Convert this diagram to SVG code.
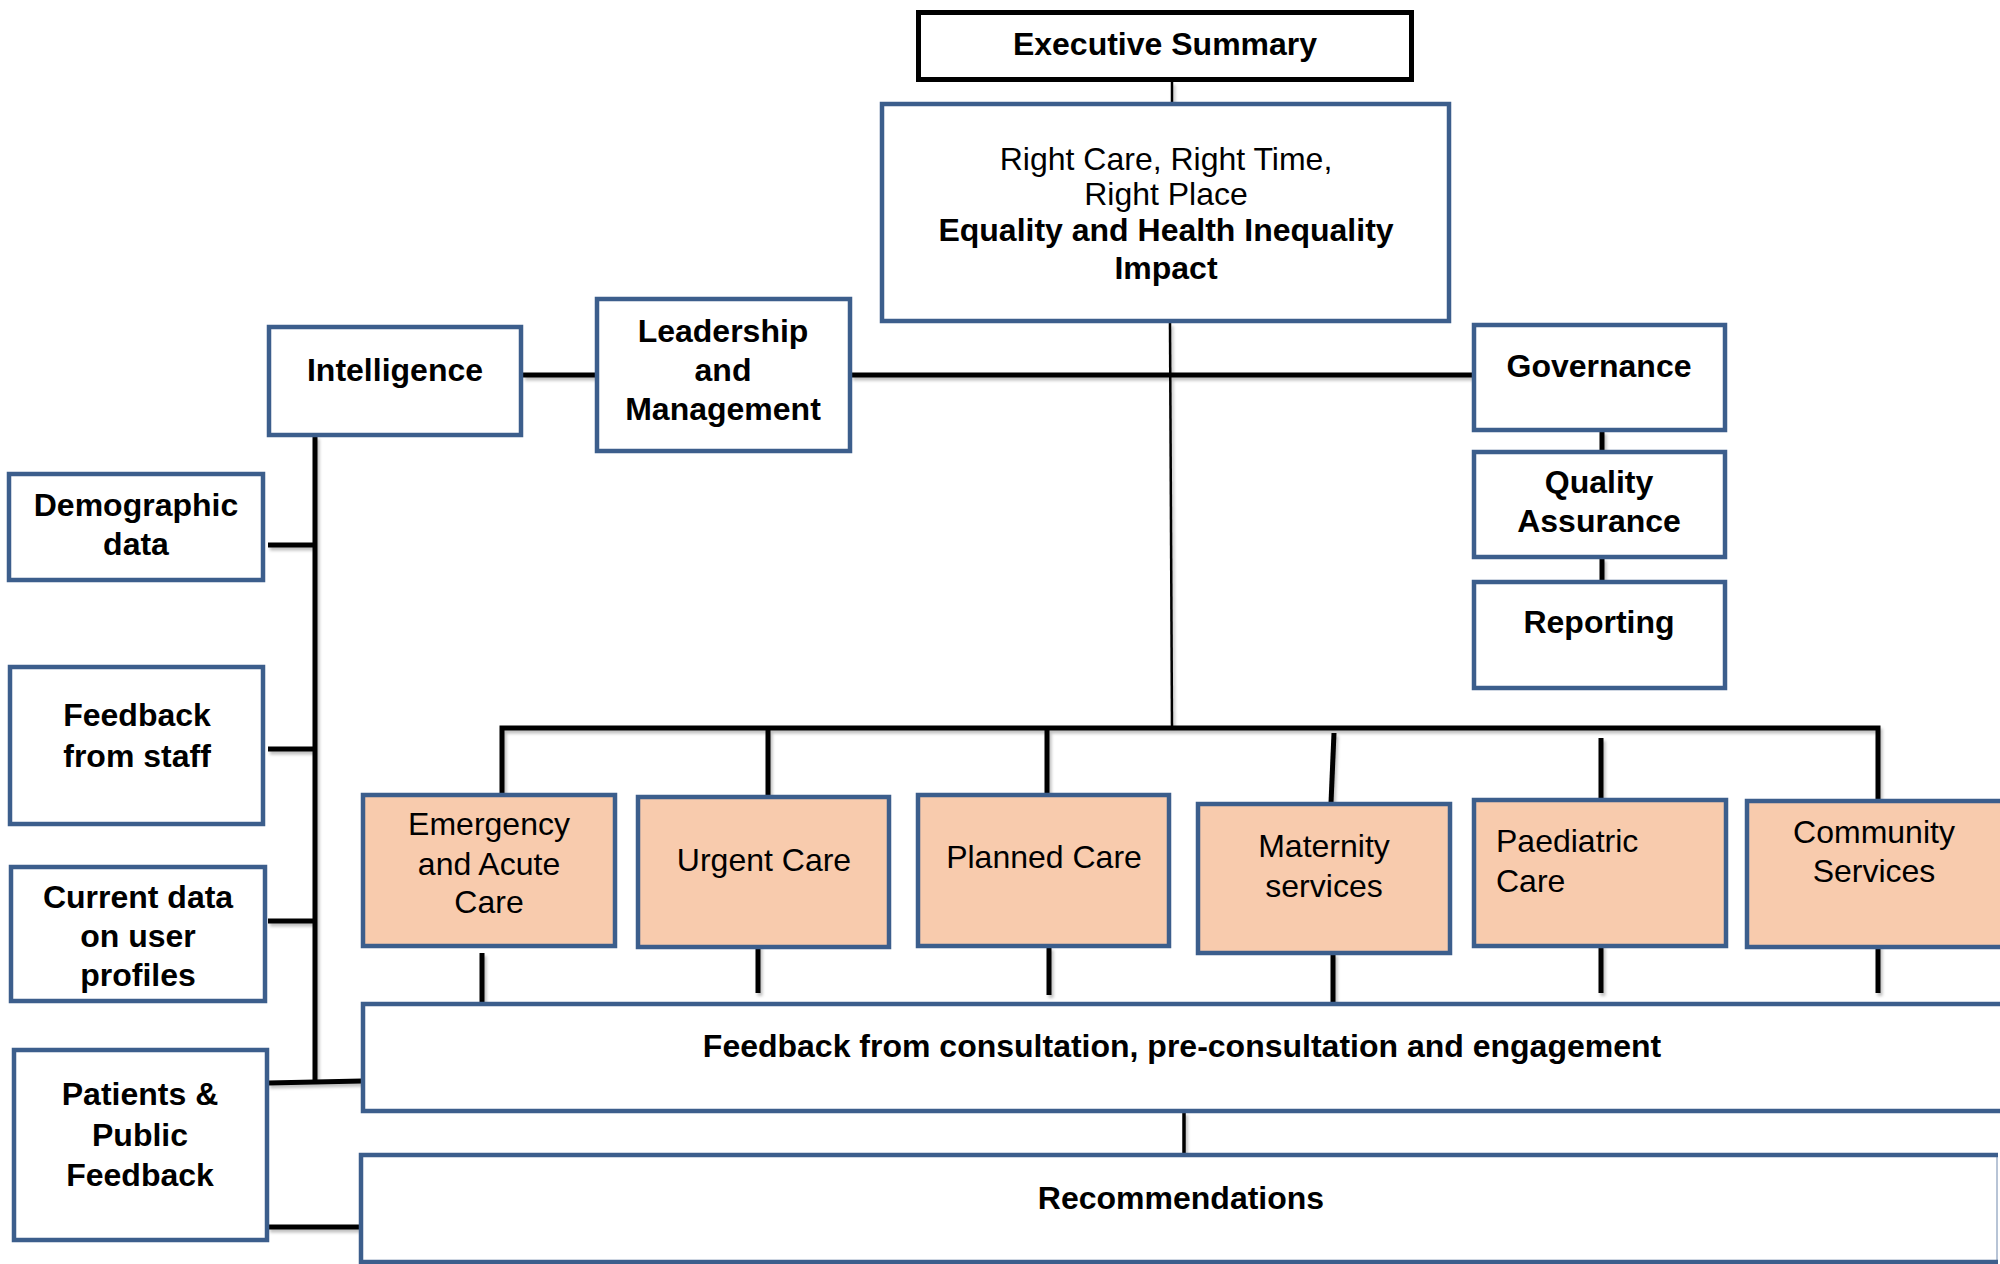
<svg xmlns="http://www.w3.org/2000/svg" width="2000" height="1264" viewBox="0 0 2000 1264">
  <defs>
    <filter id="lineShadow" x="-20%" y="-20%" width="140%" height="140%">
      <feDropShadow dx="2" dy="3" stdDeviation="1.5" flood-color="#000" flood-opacity="0.25"/>
    </filter>
    <style>
      .box { fill: #ffffff; stroke: #3C5E8C; stroke-width: 4.5; }
      .care { fill: #F8CBAD; stroke: #3C5E8C; stroke-width: 4.5; }
      .exec { fill: #ffffff; stroke: #000000; stroke-width: 5; }
      .t { font-family: "Liberation Sans", Arial, sans-serif; font-size: 32px; fill: #000; text-anchor: middle; }
      .b { font-weight: bold; }
      .thick { stroke: #000; stroke-width: 5; fill: none; }
      .thin { stroke: #000; stroke-width: 2.5; fill: none; }
    </style>
  </defs>
  <rect width="2000" height="1264" fill="#ffffff"/>

  <!-- connectors -->
  <g id="connectors" filter="url(#lineShadow)">
    <line class="thin" x1="1172" y1="82" x2="1172" y2="103"/>
    <line class="thin" x1="1170" y1="323" x2="1172" y2="728"/>
    <line class="thick" x1="523" y1="375" x2="596" y2="375"/>
    <line class="thick" x1="851" y1="375" x2="1473" y2="375"/>
    <line class="thick" x1="1602" y1="431" x2="1602" y2="451"/>
    <line class="thick" x1="1602" y1="558" x2="1602" y2="581"/>
    <!-- intelligence spine and its feeds -->
    <line class="thick" x1="315" y1="436" x2="315" y2="1082"/>
    <line class="thick" x1="268" y1="545" x2="315" y2="545"/>
    <line class="thick" x1="268" y1="749" x2="315" y2="749"/>
    <line class="thick" x1="268" y1="921" x2="315" y2="921"/>
    <line class="thick" x1="268" y1="1083" x2="362" y2="1081"/>
    <line class="thick" x1="268" y1="1227" x2="360" y2="1227"/>
    <!-- bar over the care services -->
    <polyline class="thick" points="502,793 502,728 1878,728 1878,799"/>
    <line class="thick" x1="768" y1="730" x2="768" y2="796"/>
    <line class="thick" x1="1047" y1="730" x2="1047" y2="794"/>
    <line class="thick" x1="1334" y1="733" x2="1331" y2="803"/>
    <line class="thick" x1="1601" y1="738" x2="1601" y2="799"/>
    <!-- care services down to feedback -->
    <line class="thick" x1="482" y1="953" x2="482" y2="1003"/>
    <line class="thick" x1="758" y1="945" x2="758" y2="993"/>
    <line class="thick" x1="1049" y1="947" x2="1049" y2="995"/>
    <line class="thick" x1="1333" y1="953" x2="1333" y2="1003"/>
    <line class="thick" x1="1601" y1="945" x2="1601" y2="993"/>
    <line class="thick" x1="1878" y1="945" x2="1878" y2="993"/>
    <line class="thick" x1="1184" y1="1112" x2="1184" y2="1156" style="stroke-width:3.5"/>
  </g>

  <g id="executive-summary">
    <rect class="exec" x="918.5" y="12.5" width="493" height="67"/>
    <text class="t b" x="1165" y="55">Executive Summary</text>
  </g>

  <g id="right-care">
    <rect class="box" x="882" y="104" width="567" height="217"/>
    <text class="t" x="1166" y="170">Right Care, Right Time,</text>
    <text class="t" x="1166" y="205">Right Place</text>
    <text class="t b" x="1166" y="241">Equality and Health Inequality</text>
    <text class="t b" x="1166" y="279">Impact</text>
  </g>

  <g id="intelligence">
    <rect class="box" x="269" y="327" width="252" height="108"/>
    <text class="t b" x="395" y="381">Intelligence</text>
  </g>

  <g id="leadership">
    <rect class="box" x="597" y="299" width="253" height="152"/>
    <text class="t b" x="723" y="342">Leadership</text>
    <text class="t b" x="723" y="381">and</text>
    <text class="t b" x="723" y="420">Management</text>
  </g>

  <g id="governance">
    <rect class="box" x="1474" y="325" width="251" height="105"/>
    <text class="t b" x="1599" y="377">Governance</text>
  </g>

  <g id="quality-assurance">
    <rect class="box" x="1474" y="452" width="251" height="105"/>
    <text class="t b" x="1599" y="493">Quality</text>
    <text class="t b" x="1599" y="532">Assurance</text>
  </g>

  <g id="reporting">
    <rect class="box" x="1474" y="582" width="251" height="106"/>
    <text class="t b" x="1599" y="633">Reporting</text>
  </g>

  <g id="demographic-data">
    <rect class="box" x="9" y="474" width="254" height="106"/>
    <text class="t b" x="136" y="516">Demographic</text>
    <text class="t b" x="136" y="555">data</text>
  </g>

  <g id="feedback-staff">
    <rect class="box" x="10" y="667" width="253" height="157"/>
    <text class="t b" x="137" y="726">Feedback</text>
    <text class="t b" x="137" y="767">from staff</text>
  </g>

  <g id="current-data">
    <rect class="box" x="11" y="867" width="254" height="134"/>
    <text class="t b" x="138" y="908">Current data</text>
    <text class="t b" x="138" y="947">on user</text>
    <text class="t b" x="138" y="986">profiles</text>
  </g>

  <g id="patients-public">
    <rect class="box" x="14" y="1050" width="253" height="190"/>
    <text class="t b" x="140" y="1105">Patients &amp;</text>
    <text class="t b" x="140" y="1146">Public</text>
    <text class="t b" x="140" y="1186">Feedback</text>
  </g>

  <g id="emergency-acute">
    <rect class="care" x="363" y="795" width="252" height="151"/>
    <text class="t" x="489" y="835">Emergency</text>
    <text class="t" x="489" y="875">and Acute</text>
    <text class="t" x="489" y="913">Care</text>
  </g>

  <g id="urgent-care">
    <rect class="care" x="638" y="797" width="251" height="150"/>
    <text class="t" x="764" y="871">Urgent Care</text>
  </g>

  <g id="planned-care">
    <rect class="care" x="918" y="795" width="251" height="151"/>
    <text class="t" x="1044" y="868">Planned Care</text>
  </g>

  <g id="maternity">
    <rect class="care" x="1198" y="804" width="252" height="149"/>
    <text class="t" x="1324" y="857">Maternity</text>
    <text class="t" x="1324" y="897">services</text>
  </g>

  <g id="paediatric">
    <rect class="care" x="1474" y="800" width="252" height="146"/>
    <text class="t" x="1496" y="852" style="text-anchor:start">Paediatric</text>
    <text class="t" x="1496" y="892" style="text-anchor:start">Care</text>
  </g>

  <g id="community">
    <rect class="care" x="1747" y="801" width="270" height="146"/>
    <text class="t" x="1874" y="843">Community</text>
    <text class="t" x="1874" y="882">Services</text>
  </g>

  <g id="consultation-feedback">
    <rect class="box" x="363" y="1004" width="1660" height="107"/>
    <text class="t b" x="1182" y="1057">Feedback from consultation, pre-consultation and engagement</text>
  </g>

  <g id="recommendations">
    <rect x="361" y="1155" width="1637" height="107" fill="#ffffff"/>
    <line x1="1997" y1="1157" x2="1997" y2="1260" stroke="#B8C4D6" stroke-width="2"/>
    <path d="M1998,1155 H361 V1262 H1998" fill="none" stroke="#3C5E8C" stroke-width="4.5"/>
    <text class="t b" x="1181" y="1209">Recommendations</text>
  </g>
</svg>
